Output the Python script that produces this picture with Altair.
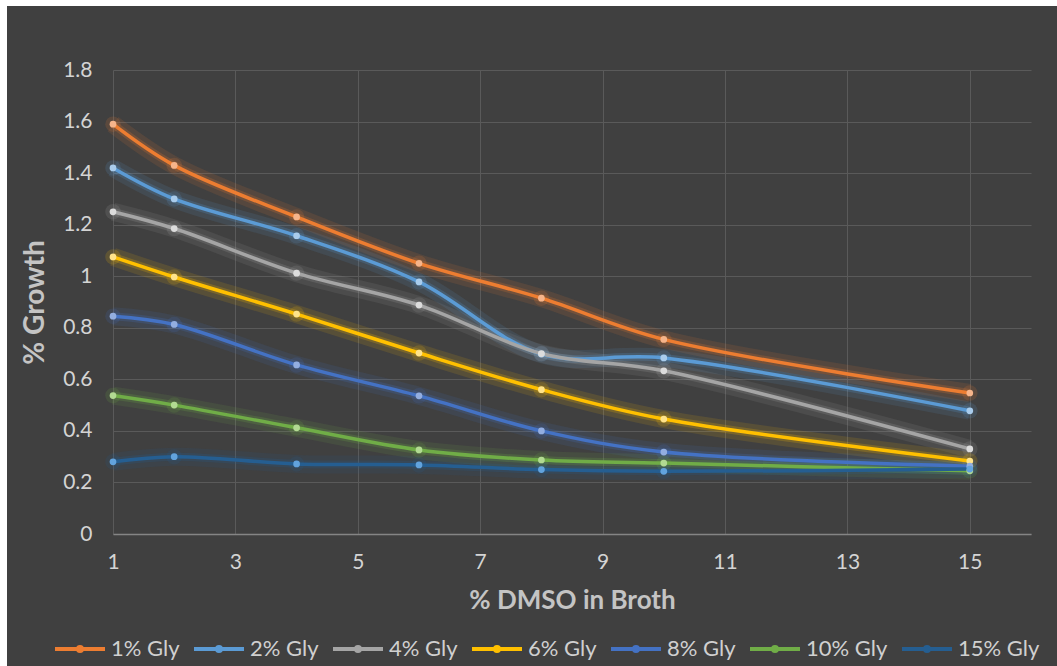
import altair as alt
import pandas as pd

# ---- data ----
dmso = [1, 2, 4, 6, 8, 10, 15]
series_names = ["1% Gly", "2% Gly", "4% Gly", "6% Gly", "8% Gly", "10% Gly", "15% Gly"]
gly_1 = [1.59, 1.43, 1.23, 1.05, 0.915, 0.755, 0.547]
gly_2 = [1.42, 1.30, 1.157, 0.978, 0.698, 0.683, 0.478]
gly_4 = [1.25, 1.185, 1.012, 0.888, 0.700, 0.633, 0.330]
gly_6 = [1.075, 0.997, 0.853, 0.702, 0.560, 0.446, 0.283]
gly_8 = [0.845, 0.813, 0.656, 0.536, 0.400, 0.318, 0.263]
gly_10 = [0.537, 0.500, 0.412, 0.326, 0.287, 0.275, 0.245]
gly_15 = [0.280, 0.300, 0.272, 0.268, 0.250, 0.243, 0.252]
x_ticks = [1, 3, 5, 7, 9, 11, 13, 15]
y_ticks = [0, 0.2, 0.4, 0.6, 0.8, 1.0, 1.2, 1.4, 1.6, 1.8]

line_colors = ["#ED7D31", "#5B9BD5", "#A5A5A5", "#FFC000", "#4472C4", "#70AD47", "#255E91"]
dot_colors = ["#F6B48A", "#A9CCEC", "#DCDCDC", "#FFE38A", "#93AEE0", "#B2DA92", "#62A3DD"]

all_series = [gly_1, gly_2, gly_4, gly_6, gly_8, gly_10, gly_15]
rows = []
for name, vals, lc, dc in zip(series_names, all_series, line_colors, dot_colors):
    for x, y in zip(dmso, vals):
        rows.append({"dmso": x, "growth": y, "series": name, "lc": lc, "dc": dc})
df = pd.DataFrame(rows)

FONT = "Lato"
W, H = 918, 464

x_enc = alt.X("dmso:Q", scale=alt.Scale(domain=[1, 16], nice=False, zero=False),
              axis=alt.Axis(values=x_ticks, title="% DMSO in Broth", grid=True,
                            gridColor="#5A5A5A", gridWidth=1, ticks=False,
                            domain=True, domainColor="#858585", domainWidth=1.5,
                            labelFont=FONT, labelFontSize=21, labelColor="#D4D4D4",
                            labelPadding=17, labelFlush=False,
                            titleFont=FONT, titleFontSize=26, titleFontWeight="bold",
                            titleColor="#C4C4C4", titleX=W / 2, titleY=66,
                            titleAlign="center", titleBaseline="middle"))
y_enc = alt.Y("growth:Q", scale=alt.Scale(domain=[0, 1.8], nice=False),
              axis=alt.Axis(values=y_ticks, title="% Growth", grid=True,
                            gridColor="#5A5A5A", gridWidth=1, ticks=False,
                            domain=False, format="~g",
                            labelFont=FONT, labelFontSize=21, labelColor="#D4D4D4",
                            labelPadding=21,
                            titleFont=FONT, titleFontSize=28, titleFontWeight="bold",
                            titleColor="#C4C4C4", titleX=-78, titleY=H / 2,
                            titleAngle=-90, titleAlign="center", titleBaseline="middle"))

base = alt.Chart(df)

glow_wide = base.mark_line(interpolate="catmull-rom", strokeWidth=18, strokeOpacity=0.12).encode(
    x=x_enc, y=y_enc, color=alt.Color("lc:N", scale=None), detail="series:N")
glow_mid = base.mark_line(interpolate="catmull-rom", strokeWidth=8, strokeOpacity=0.2).encode(
    x=x_enc, y=y_enc, color=alt.Color("lc:N", scale=None), detail="series:N")

# legend symbol: stroked line with a small (stroke-filled) dot in the middle
legend_symbol = "M-1,0L1,0M-0.08,0A0.08,0.08 0 1,1 0.08,0A0.08,0.08 0 1,1 -0.08,0Z"

main = base.mark_line(interpolate="catmull-rom", strokeWidth=3.5, opacity=1).encode(
    x=x_enc, y=y_enc,
    color=alt.Color("series:N",
                    scale=alt.Scale(domain=series_names, range=line_colors),
                    sort=series_names,
                    legend=alt.Legend(title=None, orient="none", direction="horizontal",
                                      columns=7, legendX=-60, legendY=552,
                                      symbolType=legend_symbol, symbolSize=2500,
                                      symbolStrokeWidth=4, symbolOpacity=1,
                                      symbolFillColor="transparent",
                                      labelOffset=4, columnPadding=6,
                                      labelFont=FONT, labelFontSize=22,
                                      labelColor="#D0D0D0")))

dot_glow = base.mark_circle(size=240, fillOpacity=0.16).encode(
    x=x_enc, y=y_enc, fill=alt.Fill("lc:N", scale=None))
dots = base.mark_circle(size=45, opacity=1).encode(
    x=x_enc, y=y_enc, fill=alt.Fill("dc:N", scale=None))

frame_top = alt.Chart(alt.Data(values=[{"a": 1}])).mark_rect(color="white").encode(
    x=alt.value(-113), x2=alt.value(944), y=alt.value(-70), y2=alt.value(-64),
)
frame_left = alt.Chart(alt.Data(values=[{"a": 1}])).mark_rect(color="white").encode(
    x=alt.value(-113), x2=alt.value(-106), y=alt.value(-70), y2=alt.value(600),
)

chart = alt.layer(glow_wide, glow_mid, dot_glow, main, dots,
                  frame_top, frame_left).properties(
    width=W, height=H,
    background="#404040",
    padding={"left": 113, "top": 70, "right": 26, "bottom": 132},
    autosize=alt.AutoSizeParams(type="none"),
).configure_view(stroke=None).configure_legend(symbolOpacity=1)

chart.save("out.html", embed_options={"renderer": "svg", "actions": False})
